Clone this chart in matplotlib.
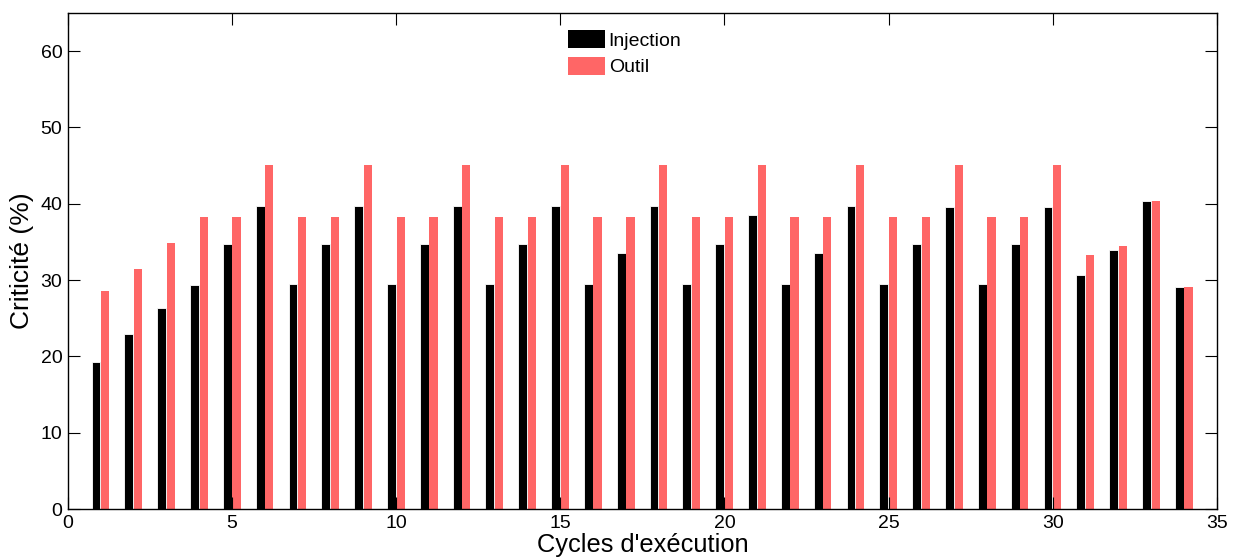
import numpy as np
import matplotlib.pyplot as plt
from matplotlib.patches import Patch

plt.rcParams['font.family'] = ['Liberation Sans', 'DejaVu Sans']

# valeurs
cycles = np.arange(1, 35)
injection = [19.2, 22.9, 26.3, 29.4, 34.7, 39.7, 29.5, 34.7, 39.7, 29.5,
             34.7, 39.7, 29.5, 34.7, 39.7, 29.5, 33.5, 39.7, 29.5, 34.7,
             38.5, 29.5, 33.5, 39.7, 29.5, 34.7, 39.6, 29.5, 34.7, 39.6,
             30.7, 33.9, 40.4, 29.1]
outil = [28.5, 31.5, 34.9, 38.3, 38.3, 45.1, 38.3, 38.3, 45.1, 38.3,
         38.3, 45.1, 38.3, 38.3, 45.1, 38.3, 38.3, 45.1, 38.3, 38.3,
         45.1, 38.3, 38.3, 45.1, 38.3, 38.3, 45.1, 38.3, 38.3, 45.1,
         33.3, 34.5, 40.4, 29.1]

noir = '#000000'
rouge = '#FF6666'

fig = plt.figure(figsize=(12.38, 5.6), dpi=100)
ax = fig.add_axes([0.0549, 0.091, 0.928, 0.886])

ax.bar(cycles - 0.145, injection, width=0.27, color=noir, edgecolor='white', linewidth=0.6)
ax.bar(cycles + 0.135, outil, width=0.25, color=rouge, linewidth=0)

ax.set_xlim(0, 35)
ax.set_ylim(0, 65)
ax.set_xticks(np.arange(0, 36, 5))
ax.set_yticks(np.arange(0, 61, 10))
ax.tick_params(direction='in', top=True, right=True, labelsize=14, length=8.5, pad=4)
for s in ax.spines.values():
    s.set_linewidth(1.0)

ax.set_xlabel("Cycles d'exécution", fontsize=18.3, labelpad=1)
ax.set_ylabel('Criticité (%)', fontsize=19, labelpad=5)

handles = [Patch(facecolor=noir, label='Injection'), Patch(facecolor=rouge, label='Outil')]
ax.legend(handles=handles, loc='upper center', bbox_to_anchor=(0.4845, 1.0), frameon=False,
          fontsize=14, handlelength=1.9, handleheight=1.05, handletextpad=0.2,
          labelspacing=0.35, borderaxespad=0.5)

fig.savefig('out.png', dpi=100)
